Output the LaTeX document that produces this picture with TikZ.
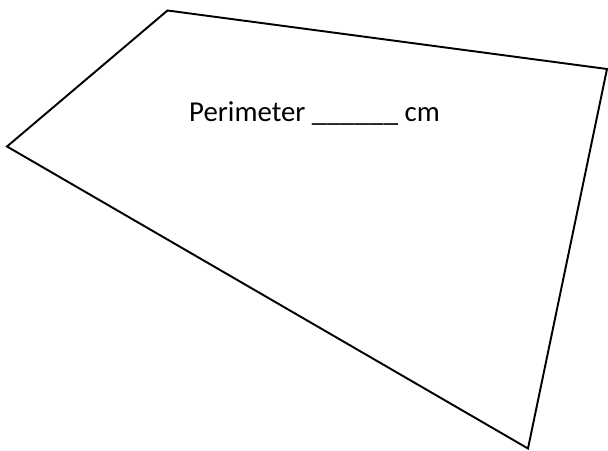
\documentclass[tikz,border=0pt]{standalone}
\usepackage{fontspec}
\setmainfont{Carlito}
\usepackage{tikz}
\usepackage{xcolor}

\begin{document}
\begin{tikzpicture}[y=-1cm, line width=0.55pt, label text/.style={font=\fontsize{8.2}{9.8}\selectfont, anchor=base}]
\useasboundingbox (0,0) rectangle (6.08,4.51);
\coordinate (top corner) at (1.675,0.105);
\coordinate (right corner) at (6.07,0.69);
\coordinate (bottom corner) at (5.28,4.485);
\coordinate (left corner) at (0.07,1.465);
\coordinate (perimeter text) at (3.145,1.22);
\draw (top corner) -- (right corner) -- (bottom corner) -- (left corner) -- cycle;
\draw (perimeter text) node[label text] (perimeter) {Perimeter \_\_\_\_\_\_ cm};
\end{tikzpicture}
\end{document}
